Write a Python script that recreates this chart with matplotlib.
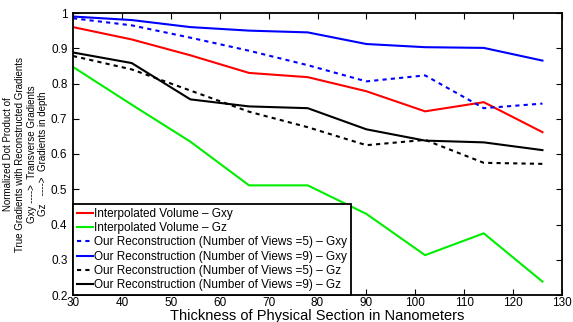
import matplotlib
matplotlib.use("Agg")
import matplotlib.pyplot as plt

plt.rcParams['font.family'] = ['Liberation Sans', 'DejaVu Sans']

x = [30, 42, 54, 66, 78, 90, 102, 114, 126]
interp_gxy = [0.960, 0.925, 0.880, 0.830, 0.818, 0.778, 0.721, 0.747, 0.662]
interp_gz = [0.847, 0.740, 0.635, 0.511, 0.511, 0.430, 0.313, 0.375, 0.238]
rec5_gxy = [0.985, 0.965, 0.930, 0.893, 0.852, 0.806, 0.823, 0.730, 0.743]
rec9_gxy = [0.990, 0.980, 0.960, 0.950, 0.945, 0.912, 0.903, 0.901, 0.865]
rec5_gz = [0.878, 0.840, 0.780, 0.720, 0.676, 0.625, 0.640, 0.575, 0.572]
rec9_gz = [0.888, 0.858, 0.755, 0.735, 0.730, 0.670, 0.638, 0.633, 0.611]

labels = ["Interpolated Volume \u2013 Gxy",
          "Interpolated Volume \u2013 Gz",
          "Our Reconstruction (Number of Views =5) \u2013 Gxy",
          "Our Reconstruction (Number of Views =9) \u2013 Gxy",
          "Our Reconstruction (Number of Views =5) \u2013 Gz",
          "Our Reconstruction (Number of Views =9) \u2013 Gz"]

fig = plt.figure(figsize=(5.73, 3.22), dpi=100)
ax = fig.add_axes([73/573, 1-295/322, (562-73)/573, (295-13)/322])

lw = 1.5
ax.plot(x, interp_gxy, color='#ff0000', lw=lw, label=labels[0])
ax.plot(x, interp_gz, color='#00ee00', lw=lw, label=labels[1])
ax.plot(x, rec5_gxy, color='#0000ff', lw=lw, ls=(0, (2, 2)), label=labels[2])
ax.plot(x, rec9_gxy, color='#0000ff', lw=lw, label=labels[3])
ax.plot(x, rec5_gz, color='black', lw=lw, ls=(0, (2, 2)), label=labels[4])
ax.plot(x, rec9_gz, color='black', lw=lw, label=labels[5])

ax.set_xlim(30, 130)
ax.set_ylim(0.2, 1.0)
ax.set_xticks(range(30, 131, 10))
ax.set_yticks([0.2, 0.3, 0.4, 0.5, 0.6, 0.7, 0.8, 0.9, 1.0])
ax.set_yticklabels(['0.2', '0.3', '0.4', '0.5', '0.6', '0.7', '0.8', '0.9', '1'])
ax.tick_params(direction='in', top=True, right=True, labelsize=8.5, length=4, width=0.8, pad=4)
ax.tick_params(axis='x', pad=1.5)
for s in ax.spines.values():
    s.set_linewidth(1.3)

ax.set_xlabel("Thickness of Physical Section in Nanometers", fontsize=10.5, labelpad=0)
ax.set_ylabel("Normalized Dot Product of\nTrue Gradients with Reconstructed Gradients\n"
              "Gxy ---->  Transverse Gradients\nGz   ---->  Gradients in depth",
              fontsize=7, labelpad=2, linespacing=1.2)

leg = ax.legend(loc='lower left', borderaxespad=0, fontsize=8.5, handlelength=1.4,
                handletextpad=0.1, labelspacing=0.2, borderpad=0.3, fancybox=False,
                framealpha=1, edgecolor='black')
leg.get_frame().set_linewidth(1.3)

fig.savefig("out.png", dpi=100)
